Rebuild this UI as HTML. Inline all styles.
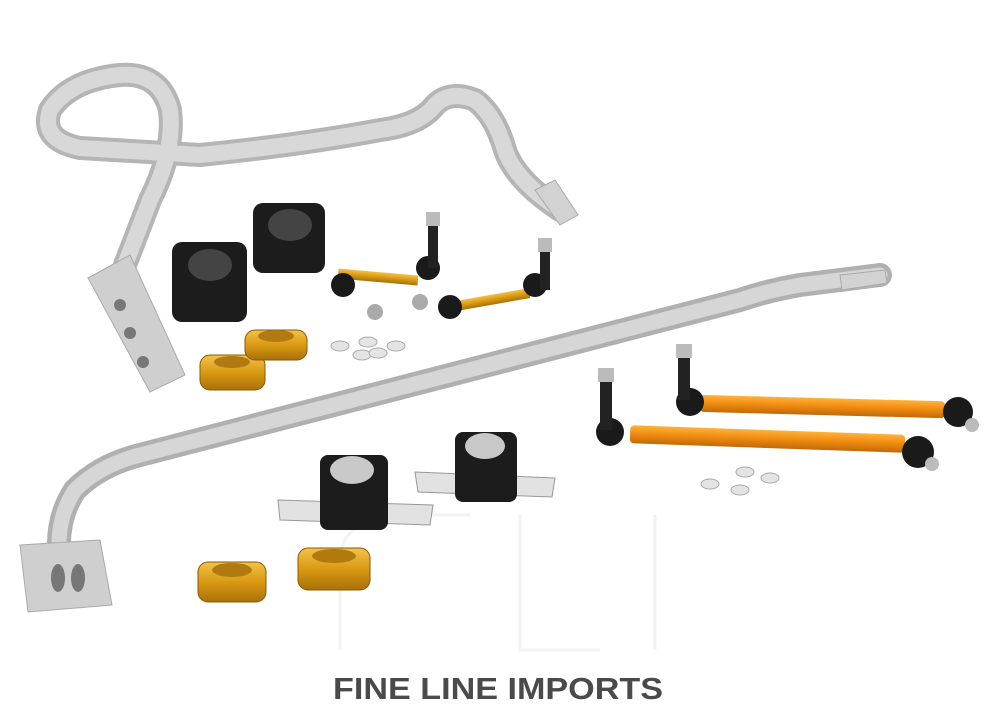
<!DOCTYPE html>
<html><head><meta charset="utf-8"><style>
html,body{margin:0;padding:0;background:#fff;}
svg{display:block}
</style></head><body>
<svg width="1000" height="715" viewBox="0 0 1000 715" xmlns="http://www.w3.org/2000/svg">
<defs>
<linearGradient id="gold" x1="0" y1="0" x2="0" y2="1"><stop offset="0" stop-color="#f3c24a"/><stop offset="0.5" stop-color="#d99a12"/><stop offset="1" stop-color="#a8700a"/></linearGradient>
<linearGradient id="org" x1="0" y1="0" x2="0" y2="1"><stop offset="0" stop-color="#ffb23a"/><stop offset="0.5" stop-color="#f08a10"/><stop offset="1" stop-color="#c06a08"/></linearGradient>
</defs>
<!-- watermark -->
<g fill="none" stroke="#f2f2f2" stroke-width="3">
<path d="M340 650 L340 560 Q340 520 400 515 L470 515"/>
<path d="M520 515 L520 650 L600 650"/>
<path d="M655 515 L655 650"/>
</g>
<!-- front bar -->
<g fill="none" stroke-linecap="round" stroke-linejoin="round">
<path d="M125 265 L150 200 Q175 150 170 110 Q160 72 120 75 Q70 80 50 110 Q40 140 80 148 L200 155 Q300 145 380 130 Q420 125 435 105 Q450 90 475 100 Q495 115 505 150 Q515 180 560 210" stroke="#b5b5b5" stroke-width="24"/>
<path d="M125 265 L150 200 Q175 150 170 110 Q160 72 120 75 Q70 80 50 110 Q40 140 80 148 L200 155 Q300 145 380 130 Q420 125 435 105 Q450 90 475 100 Q495 115 505 150 Q515 180 560 210" stroke="#d8d8d8" stroke-width="16"/>
</g>
<polygon points="88,278 130,255 185,375 150,392" fill="#cfcfcf" stroke="#aaa"/>
<circle cx="120" cy="305" r="6" fill="#777"/><circle cx="130" cy="333" r="6" fill="#777"/><circle cx="143" cy="362" r="6" fill="#777"/>
<polygon points="535,190 555,180 578,215 560,225" fill="#d2d2d2" stroke="#aaa"/>
<!-- rear bar -->
<g fill="none" stroke-linecap="round" stroke-linejoin="round">
<path d="M880 275 L800 285 Q770 290 740 300 L140 455 Q100 465 75 490 Q55 520 60 560" stroke="#b0b0b0" stroke-width="24"/>
<path d="M880 275 L800 285 Q770 290 740 300 L140 455 Q100 465 75 490 Q55 520 60 560" stroke="#d6d6d6" stroke-width="15"/>
</g>
<polygon points="20,545 100,540 112,605 28,612" fill="#cfcfcf" stroke="#aaa"/>
<ellipse cx="58" cy="578" rx="7" ry="14" fill="#777"/><ellipse cx="78" cy="578" rx="7" ry="14" fill="#777"/>
<polygon points="840,275 885,270 887,283 842,290" fill="#d2d2d2" stroke="#aaa"/>
<!-- bushings top -->
<rect x="172" y="242" width="75" height="80" rx="10" fill="#1c1c1c"/>
<ellipse cx="210" cy="265" rx="22" ry="16" fill="#444"/>
<rect x="253" y="203" width="72" height="70" rx="10" fill="#1c1c1c"/>
<ellipse cx="290" cy="225" rx="22" ry="16" fill="#444"/>
<!-- bushings bottom -->
<polygon points="278,500 433,505 430,525 280,520" fill="#e2e2e2" stroke="#999"/>
<rect x="320" y="455" width="68" height="75" rx="8" fill="#1c1c1c"/>
<ellipse cx="352" cy="470" rx="22" ry="14" fill="#c8c8c8"/>
<polygon points="415,472 555,478 552,497 418,492" fill="#e2e2e2" stroke="#999"/>
<rect x="455" y="432" width="62" height="70" rx="8" fill="#1c1c1c"/>
<ellipse cx="485" cy="446" rx="20" ry="13" fill="#c8c8c8"/>
<!-- gold clamps -->
<g fill="url(#gold)" stroke="#8a5a05">
<rect x="200" y="355" width="65" height="35" rx="10"/>
<rect x="245" y="330" width="62" height="30" rx="10"/>
<rect x="198" y="562" width="68" height="40" rx="10"/>
<rect x="298" y="548" width="72" height="42" rx="10"/>
</g>
<ellipse cx="232" cy="362" rx="18" ry="6" fill="#b07a10"/>
<ellipse cx="276" cy="336" rx="18" ry="6" fill="#b07a10"/>
<ellipse cx="232" cy="570" rx="20" ry="7" fill="#b07a10"/>
<ellipse cx="334" cy="556" rx="22" ry="7" fill="#b07a10"/>
<!-- small end links -->
<g>
<rect x="338" y="272" width="80" height="10" fill="url(#gold)" transform="rotate(5 378 277)"/>
<circle cx="343" cy="285" r="12" fill="#1a1a1a"/><circle cx="428" cy="268" r="12" fill="#1a1a1a"/>
<rect x="428" y="218" width="10" height="50" fill="#222"/><rect x="426" y="212" width="14" height="14" fill="#bbb"/>
<rect x="450" y="295" width="80" height="10" fill="url(#gold)" transform="rotate(-10 490 300)"/>
<circle cx="450" cy="307" r="12" fill="#1a1a1a"/><circle cx="535" cy="285" r="12" fill="#1a1a1a"/>
<rect x="540" y="245" width="10" height="45" fill="#222"/><rect x="538" y="238" width="14" height="14" fill="#bbb"/>
<circle cx="375" cy="312" r="8" fill="#aaa"/><circle cx="420" cy="302" r="8" fill="#aaa"/>
</g>
<!-- long orange links -->
<rect x="700" y="398" width="245" height="17" rx="4" fill="url(#org)" transform="rotate(1.5 820 406)"/>
<rect x="630" y="430" width="275" height="18" rx="4" fill="url(#org)" transform="rotate(2 767 439)"/>
<circle cx="690" cy="402" r="14" fill="#1a1a1a"/><rect x="678" y="350" width="12" height="50" fill="#222"/><rect x="676" y="344" width="16" height="14" fill="#bbb"/>
<circle cx="610" cy="432" r="14" fill="#1a1a1a"/><rect x="600" y="375" width="12" height="55" fill="#222"/><rect x="598" y="368" width="16" height="14" fill="#bbb"/>
<circle cx="958" cy="412" r="15" fill="#1a1a1a"/><circle cx="972" cy="425" r="7" fill="#bbb"/>
<circle cx="918" cy="452" r="16" fill="#1a1a1a"/><circle cx="932" cy="464" r="7" fill="#bbb"/>
<!-- washers -->
<g fill="#e4e4e4" stroke="#aaa">
<ellipse cx="340" cy="346" rx="9" ry="5"/><ellipse cx="368" cy="342" rx="9" ry="5"/><ellipse cx="396" cy="346" rx="9" ry="5"/>
<ellipse cx="362" cy="355" rx="9" ry="5"/><ellipse cx="378" cy="353" rx="9" ry="5"/>
<ellipse cx="710" cy="484" rx="9" ry="5"/><ellipse cx="745" cy="472" rx="9" ry="5"/><ellipse cx="770" cy="478" rx="9" ry="5"/>
<ellipse cx="740" cy="490" rx="9" ry="5"/>
</g>
<text x="498" y="699" text-anchor="middle" font-family="Liberation Sans, sans-serif" font-weight="bold" font-size="31" fill="#4a4a4a" textLength="330" lengthAdjust="spacingAndGlyphs">FINE LINE IMPORTS</text>
</svg>
</body></html>
